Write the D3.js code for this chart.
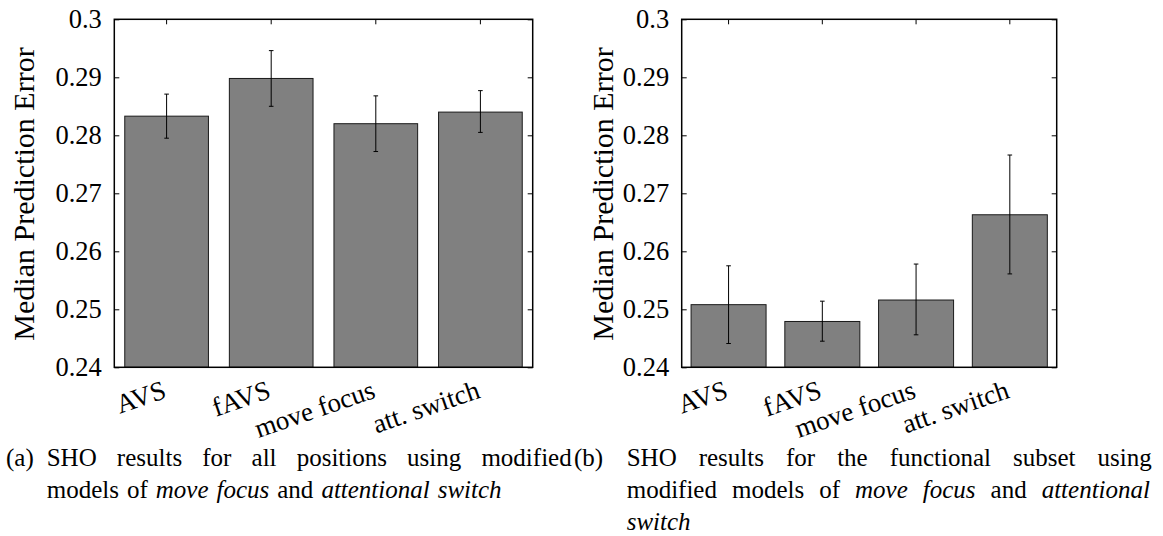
<!DOCTYPE html>
<html>
<head>
<meta charset="utf-8">
<script src="https://cdn.jsdelivr.net/npm/d3@7"></script>
<style>
  body { margin: 0; background: #fff; }
  svg { display: block; }
</style>
</head>
<body>
<svg width="1163" height="536"></svg>
<script>
const categories = ["AVS", "fAVS", "move focus", "att. switch"];
const yTicks = [0.24, 0.25, 0.26, 0.27, 0.28, 0.29, 0.3];

// (a) all positions
const allMedian = [0.2833, 0.2898, 0.2820, 0.2840];
const allLow = [0.2795, 0.2850, 0.2772, 0.2805];
const allHigh = [0.2871, 0.2946, 0.2868, 0.2877];

// (b) functional subset
const subsetMedian = [0.2508, 0.2479, 0.2516, 0.2663];
const subsetLow = [0.2441, 0.2445, 0.2456, 0.2561];
const subsetHigh = [0.2575, 0.2514, 0.2578, 0.2766];

const yTitle = "Median Prediction Error";

const serif = "'Liberation Serif', 'DejaVu Serif', 'Noto Serif', 'Times New Roman', serif";

var svg = d3.select("svg")
  .attr("font-family", serif)
  .style("font-family", serif);

var y = d3.scaleLinear()
  .domain([0.24, 0.3])
  .range([367.3, 19.3]);

function panel(x0, x1, median, low, high, titleX) {
  var rows = categories.map((c, i) => ({ c: c, m: median[i], lo: low[i], hi: high[i] }));

  var x = d3.scaleBand()
    .domain(categories)
    .range([x0, x1])
    .paddingInner(0.2)
    .paddingOuter(0.1);

  var g = svg.append("g");

  // bars
  g.selectAll("rect.bar")
    .data(rows)
    .enter()
    .append("rect")
    .attr("class", "bar")
    .attr("x", d => x(d.c))
    .attr("width", x.bandwidth())
    .attr("y", d => y(d.m))
    .attr("height", d => y(0.24) - y(d.m))
    .attr("fill", "#808080")
    .attr("stroke", "#1a1a1a")
    .attr("stroke-width", 1);

  // error bars
  var eb = g.selectAll("g.err")
    .data(rows)
    .enter()
    .append("g")
    .attr("class", "err")
    .attr("stroke", "#000")
    .attr("stroke-width", 1);
  eb.append("line")
    .attr("x1", d => x(d.c) + x.bandwidth() / 2)
    .attr("x2", d => x(d.c) + x.bandwidth() / 2)
    .attr("y1", d => y(d.lo))
    .attr("y2", d => y(d.hi));
  eb.append("line")
    .attr("x1", d => x(d.c) + x.bandwidth() / 2 - 2.3)
    .attr("x2", d => x(d.c) + x.bandwidth() / 2 + 2.3)
    .attr("y1", d => y(d.hi))
    .attr("y2", d => y(d.hi));
  eb.append("line")
    .attr("x1", d => x(d.c) + x.bandwidth() / 2 - 2.3)
    .attr("x2", d => x(d.c) + x.bandwidth() / 2 + 2.3)
    .attr("y1", d => y(d.lo))
    .attr("y2", d => y(d.lo));

  // inward ticks: left + right (mirrored) and top
  var left = g.append("g")
    .attr("transform", `translate(${x0},0)`)
    .call(d3.axisRight(y).tickValues(yTicks).tickSize(5).tickFormat(""));
  var right = g.append("g")
    .attr("transform", `translate(${x1},0)`)
    .call(d3.axisLeft(y).tickValues(yTicks).tickSize(5).tickFormat(""));
  var top = g.append("g")
    .attr("transform", `translate(0,${y(0.3)})`)
    .call(d3.axisBottom(x).tickSize(5).tickFormat(""));
  [left, right, top].forEach(a => {
    a.select(".domain").remove();
    a.selectAll("line").attr("stroke", "#000").attr("stroke-width", 1);
  });

  // frame
  g.append("rect")
    .attr("x", x0)
    .attr("y", y(0.3))
    .attr("width", x1 - x0)
    .attr("height", y(0.24) - y(0.3))
    .attr("fill", "none")
    .attr("stroke", "#000")
    .attr("stroke-width", 1.5);

  // y tick labels
  g.selectAll("text.ytick")
    .data(yTicks)
    .enter()
    .append("text")
    .attr("class", "ytick")
    .attr("x", x0 - 12.5)
    .attr("y", d => y(d))
    .attr("dy", "0.34em")
    .attr("text-anchor", "end")
    .style("font-family", serif)
    .style("font-size", "26.5px")
    .text(d => String(+d.toFixed(2)));

  // x labels, rotated
  g.selectAll("text.xlab")
    .data(categories)
    .enter()
    .append("text")
    .attr("class", "xlab")
    .attr("text-anchor", "end")
    .attr("transform", d => `translate(${x(d) + x.bandwidth() / 2 + 1},${y(0.24) + 30}) rotate(-19)`)
    .style("font-family", serif)
    .style("font-size", "27px")
    .text(d => d);

  // y title
  g.append("text")
    .attr("text-anchor", "middle")
    .attr("transform", `translate(${titleX},194) rotate(-90)`)
    .style("font-family", serif)
    .style("font-size", "30px")
    .text(yTitle);
}

panel(114.3, 532.7, allMedian, allLow, allHigh, 34);
panel(681.7, 1056.7, subsetMedian, subsetLow, subsetHigh, 612.5);

// captions: runs of [text, italic]
const captionA = [
  { label: "(a)", lx: 6, x0: 46.7, x1: 571.7, y: 466, justify: true,
    runs: [["SHO results for all positions using modified", false]] },
  { x0: 46.7, y: 498, justify: false,
    runs: [["models of", false], ["move focus", true], ["and", false], ["attentional switch", true]] }
];
const captionB = [
  { label: "(b)", lx: 574, x0: 626.7, x1: 1151.7, y: 466, justify: true,
    runs: [["SHO results for the functional subset using", false]] },
  { x0: 626.7, x1: 1150, y: 498, justify: true,
    runs: [["modified models of", false], ["move focus", true], ["and", false], ["attentional", true]] },
  { x0: 626.7, y: 530, justify: false,
    runs: [["switch", true]] }
];

var cap = svg.append("g");

function captionLine(line) {
  if (line.label) {
    cap.append("text")
      .attr("x", line.lx)
      .attr("y", line.y)
      .style("font-family", serif)
      .style("font-size", "25px")
      .text(line.label);
  }
  var words = [];
  line.runs.forEach(r => r[0].split(" ").forEach(w => words.push({ w: w, it: r[1] })));
  var nodes = words.map(d => cap.append("text")
    .attr("y", line.y)
    .style("font-family", serif)
    .style("font-size", "25px")
    .style("font-style", d.it ? "italic" : "normal")
    .text(d.w));
  var widths = nodes.map(n => n.node().getComputedTextLength());
  var total = d3.sum(widths);
  var gap = 8;
  if (line.justify && words.length > 1) gap = (line.x1 - line.x0 - total) / (words.length - 1);
  var cx = line.x0;
  nodes.forEach((n, i) => {
    n.attr("x", cx);
    cx += widths[i] + gap;
  });
}

captionA.forEach(captionLine);
captionB.forEach(captionLine);
</script>
</body>
</html>
